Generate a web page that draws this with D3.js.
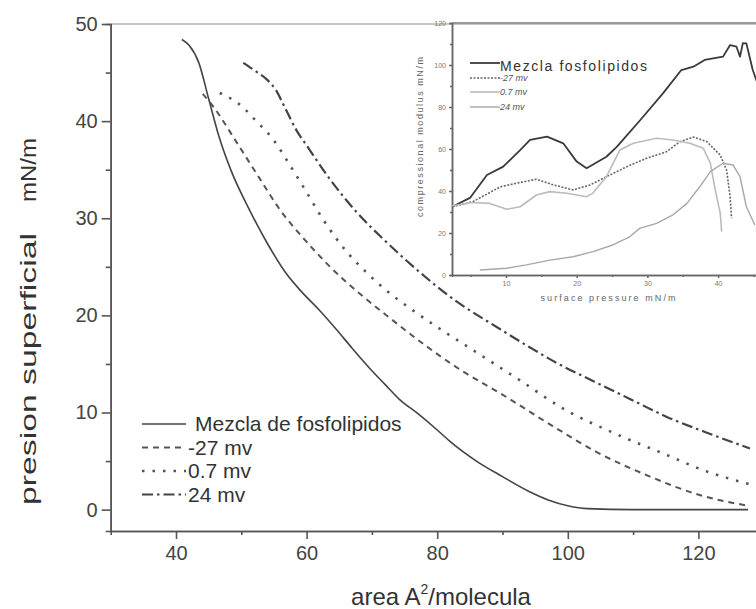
<!DOCTYPE html>
<html>
<head>
<meta charset="utf-8">
<script src="https://cdn.jsdelivr.net/npm/d3@7"></script>
<style>
  html, body { margin: 0; padding: 0; background: #fff; }
  svg { display: block; font-family: "Liberation Sans", Arial, sans-serif; }
</style>
</head>
<body>
<svg id="chart" width="756" height="609"></svg>
<script>
// main chart: isotherms (area vs surface pressure)
const mainXTicks = [40, 60, 80, 100, 120];
const mainXMinor = [50, 70, 90, 110];
const mainYTicks = [0, 10, 20, 30, 40, 50];
const mainYMinor = [5, 15, 25, 35, 45];

const seriesNames = ['Mezcla de fosfolipidos', '-27 mv', '0.7 mv', '24 mv'];

const mezcla = [[40.9,48.4],[42,47.8],[43.5,46],[45,42.3],[46.5,38.6],[48.5,34.8],[51,31.2],[54,27.4],
  [57,24.2],[59,22.6],[62,20.5],[64.5,18.6],[67,16.6],[70,14.3],[72,12.9],[74.3,11.3],[77,9.9],
  [80,8.2],[82,7],[86,5],[90,3.4],[94,1.9],[97,1],[100,0.4],[103,0.1],[110,0],[120,0],[127.6,0]];
const neg27 = [[44.1,42.8],[45.7,41.5],[49.3,37.8],[52.9,34],[55.9,30.9],[60.1,27.5],[63.6,25],
  [68.2,22.2],[72.8,19.7],[78.4,16.8],[84,14.2],[89.6,12],[97.7,8.6],[104.5,5.9],[112.6,3.4],
  [120.2,1.5],[127.6,0.4]];
const pos07 = [[46.7,42.9],[50.3,41.4],[52,40.2],[54.9,38.1],[57.5,35.4],[59.8,32.9],[62.5,29.9],
  [66.2,26.5],[69.2,24.4],[72.5,22.4],[76.1,20.6],[80.9,18.4],[84.6,16.8],[92.7,13.3],[99.3,10.4],
  [107,7.9],[114.9,5.7],[121,4],[127.9,2.6]];
const pos24 = [[50.3,46],[52.5,45],[53.9,44.3],[55.3,43.2],[56.6,41.5],[58.5,39],[60.1,37.4],
  [63.6,34],[67.7,30.6],[72.3,27.5],[77.4,24.4],[82,21.9],[89.6,18.6],[94.2,16.7],[98.3,15.1],
  [104,13.2],[109.5,11.4],[115,9.6],[121,8],[127.9,6.3]];

// inset: compressional modulus vs surface pressure
const insetXTicks = [10, 20, 30, 40];
const insetXMinor = [5, 15, 25, 35, 45];
const insetYTicks = [0, 20, 40, 60, 80, 100, 120];
const insetYMinor = [10, 30, 50, 70, 90, 110];
const insetNames = ['Mezcla fosfolipidos', '-27 mv', '0.7 mv', '24 mv'];

const inMezcla = [[2.4,32.5],[4.9,36.7],[7.3,47.6],[9.6,51.6],[12,59.5],[13.4,64.3],[15.8,65.9],
  [18.1,62.7],[20,54],[21.4,50.8],[24.2,56.3],[25.7,61.1],[26.1,62.7],[29,73.8],[32.2,86.5],
  [34.8,97.6],[36.5,99.2],[38.1,102.4],[40.7,104],[41.7,109.5],[42.6,108.7],[43.1,104],
  [43.5,110.4],[44,110.3],[44.9,97.6],[45.5,92]];
const inNeg27 = [[2.4,32.5],[5.3,34.9],[9.2,42],[11.5,43.7],[14.3,45.6],[16.7,42.9],[19.5,40.5],
  [21.9,42.9],[24.2,46.8],[27.1,51.6],[29.9,55.6],[32.7,58.7],[34.6,63.5],[36.5,65.7],
  [38.4,63.5],[40.3,57.1],[41.2,50],[41.7,37.3],[41.9,27]];
const inPos07 = [[2.4,33],[5.3,34.5],[7.7,34.1],[10.1,31.3],[12,32.5],[14.3,38.1],[16.2,39.7],
  [18.6,38.9],[21.4,37.3],[22.3,39],[24.2,46.8],[26.1,59.5],[28,62.7],[31.3,65.1],[33.6,64.3],
  [36,62.7],[37.9,60.3],[38.9,53.3],[39.6,40.5],[40.3,29.5],[40.5,20.6]];
const inPos24 = [[6.3,2.4],[10.1,3.2],[12.9,4.8],[16.2,7.1],[19.5,8.7],[22.3,11.1],[25.1,14.3],
  [27.5,18.2],[28.9,22.2],[31.3,24.6],[33.6,28.6],[35.6,34.1],[37.4,42],[38.9,49.2],[40.7,53.2],
  [42.1,52.4],[43.1,46.8],[44,32.5],[45.2,23.8]];

const svg = d3.select('#chart');

// ---------- main chart ----------
const x = d3.scaleLinear().domain([30, 130]).range([110.7, 763.7]);
const y = d3.scaleLinear().domain([-2.2, 50]).range([531, 24]);

// top frame line
svg.append('line')
  .attr('x1', x(30)).attr('x2', 756)
  .attr('y1', y(50)).attr('y2', y(50))
  .attr('stroke', '#c8c8c8').attr('stroke-width', 2);

function styleAxis(g, color, width) {
  g.select('.domain').attr('stroke', color).attr('stroke-width', width);
  g.selectAll('.tick line').attr('stroke', color).attr('stroke-width', width);
}

const xMinorAxis = svg.append('g')
  .attr('transform', `translate(0,${y(-2.2)})`)
  .call(d3.axisBottom(x).tickValues(mainXMinor).tickSize(4).tickFormat(''));
styleAxis(xMinorAxis, '#555', 1.6);

const xAxis = svg.append('g')
  .attr('transform', `translate(0,${y(-2.2)})`)
  .call(d3.axisBottom(x).tickValues(mainXTicks).tickSize(8).tickPadding(7).tickSizeOuter(0));
styleAxis(xAxis, '#555', 1.6);
xAxis.selectAll('text').attr('font-size', '20px').attr('fill', '#444');

const yMinorAxis = svg.append('g')
  .attr('transform', `translate(${x(30)},0)`)
  .call(d3.axisLeft(y).tickValues(mainYMinor).tickSize(5).tickFormat(''));
styleAxis(yMinorAxis, '#555', 1.6);

const yAxis = svg.append('g')
  .attr('transform', `translate(${x(30)},0)`)
  .call(d3.axisLeft(y).tickValues(mainYTicks).tickSize(9).tickPadding(4).tickSizeOuter(0));
styleAxis(yAxis, '#555', 1.6);
yAxis.selectAll('text').attr('font-size', '20px').attr('fill', '#444');

// axis labels
const xLabel = svg.append('text')
  .attr('x', 441).attr('y', 605)
  .attr('text-anchor', 'middle')
  .attr('font-size', '24px').attr('fill', '#333');
xLabel.append('tspan').text('area A');
xLabel.append('tspan').attr('font-size', '14px').attr('dy', -11).text('2');
xLabel.append('tspan').attr('dy', 11).text('/molecula');

svg.append('text')
  .attr('transform', 'translate(36,505) rotate(-90)')
  .attr('text-anchor', 'start')
  .attr('font-size', '22px').attr('fill', '#333')
  .attr('textLength', 272).attr('lengthAdjust', 'spacingAndGlyphs')
  .text('presion superficial');

svg.append('text')
  .attr('transform', 'translate(36,138) rotate(-90)')
  .attr('text-anchor', 'end')
  .attr('font-size', '22px').attr('fill', '#333')
  .attr('textLength', 64).attr('lengthAdjust', 'spacingAndGlyphs')
  .text('mN/m');

// curves
const mainStyles = [
  { color: '#444', width: 1.6, dash: null },
  { color: '#555', width: 2, dash: '6,5' },
  { color: '#555', width: 2.6, dash: '2.5,8' },
  { color: '#444', width: 2.2, dash: '11,4,2.5,4' }
];
const mainSeries = [mezcla, neg27, pos07, pos24];

const line = d3.line()
  .x(d => x(d[0]))
  .y(d => y(d[1]))
  .curve(d3.curveMonotoneX);

mainSeries.forEach((data, i) => {
  const st = mainStyles[i];
  svg.append('path')
    .datum(data)
    .attr('fill', 'none')
    .attr('stroke', st.color)
    .attr('stroke-width', st.width)
    .attr('stroke-dasharray', st.dash)
    .attr('d', line);
});

// main legend
const legend = svg.append('g');
seriesNames.forEach((name, i) => {
  const st = mainStyles[i];
  const ly = 424 + i * 23.5;
  legend.append('line')
    .attr('x1', 142).attr('x2', 186)
    .attr('y1', ly).attr('y2', ly)
    .attr('stroke', st.color)
    .attr('stroke-width', st.width)
    .attr('stroke-dasharray', st.dash);
  legend.append('text')
    .attr('x', i === 0 ? 195 : 188).attr('y', ly + 7)
    .attr('font-size', '21px').attr('fill', '#333')
    .text(name);
});

// ---------- inset ----------
const ix = d3.scaleLinear().domain([2.36, 50]).range([452, 788.8]);
const iy = d3.scaleLinear().domain([0, 120]).range([275, 23]);
const inset = svg.append('g');

inset.append('line')
  .attr('x1', ix(2.36)).attr('x2', 756)
  .attr('y1', iy(120)).attr('y2', iy(120))
  .attr('stroke', '#999').attr('stroke-width', 2);

const ixMinor = inset.append('g')
  .attr('transform', `translate(0,${iy(0)})`)
  .call(d3.axisBottom(ix).tickValues(insetXMinor).tickSize(2).tickFormat(''));
styleAxis(ixMinor, '#666', 1.5);
const ixAxis = inset.append('g')
  .attr('transform', `translate(0,${iy(0)})`)
  .call(d3.axisBottom(ix).tickValues(insetXTicks).tickSize(3).tickPadding(3).tickSizeOuter(0));
styleAxis(ixAxis, '#666', 1.5);
ixAxis.selectAll('text').attr('font-size', '7px').attr('fill', '#777');

const iyMinor = inset.append('g')
  .attr('transform', `translate(${ix(2.36)},0)`)
  .call(d3.axisLeft(iy).tickValues(insetYMinor).tickSize(2).tickFormat(''));
styleAxis(iyMinor, '#666', 1.5);
const iyAxis = inset.append('g')
  .attr('transform', `translate(${ix(2.36)},0)`)
  .call(d3.axisLeft(iy).tickValues(insetYTicks).tickSize(3).tickPadding(3).tickSizeOuter(0));
styleAxis(iyAxis, '#666', 1.5);
iyAxis.selectAll('text').attr('font-size', '7px').attr('fill', '#777');

inset.append('text')
  .attr('x', 608).attr('y', 301)
  .attr('text-anchor', 'middle')
  .attr('font-size', '9px').attr('fill', '#666')
  .attr('textLength', 135).attr('lengthAdjust', 'spacing')
  .text('surface pressure  mN/m');

inset.append('text')
  .attr('transform', 'translate(423,137) rotate(-90)')
  .attr('text-anchor', 'middle')
  .attr('font-size', '9px').attr('fill', '#666')
  .attr('textLength', 160).attr('lengthAdjust', 'spacing')
  .text('compressional modulus  mN/m');

const insetStyles = [
  { color: '#3a3a3a', width: 1.8, dash: null },
  { color: '#666', width: 1.6, dash: '2,1.5' },
  { color: '#bbb', width: 1.6, dash: null },
  { color: '#a8a8a8', width: 1.4, dash: null }
];
const insetSeries = [inMezcla, inNeg27, inPos07, inPos24];

const iline = d3.line()
  .x(d => ix(d[0]))
  .y(d => iy(d[1]));

insetSeries.forEach((data, i) => {
  const st = insetStyles[i];
  inset.append('path')
    .datum(data)
    .attr('fill', 'none')
    .attr('stroke', st.color)
    .attr('stroke-width', st.width)
    .attr('stroke-dasharray', st.dash)
    .attr('stroke-linejoin', 'round')
    .attr('d', iline);
});

// inset legend
const ilegY = [63, 78, 92, 107];
insetNames.forEach((name, i) => {
  const st = insetStyles[i];
  inset.append('line')
    .attr('x1', 470).attr('x2', 500)
    .attr('y1', ilegY[i]).attr('y2', ilegY[i])
    .attr('stroke', st.color)
    .attr('stroke-width', st.width)
    .attr('stroke-dasharray', st.dash);
  const t = inset.append('text')
    .attr('x', 500)
    .attr('fill', i === 0 ? '#333' : '#555')
    .text(name);
  if (i === 0) {
    t.attr('y', ilegY[i] + 8).attr('font-size', '14px')
      .attr('textLength', 147).attr('lengthAdjust', 'spacing');
  } else {
    t.attr('y', ilegY[i] + 3).attr('font-size', '9px').attr('font-style', 'italic');
  }
});
</script>
</body>
</html>
